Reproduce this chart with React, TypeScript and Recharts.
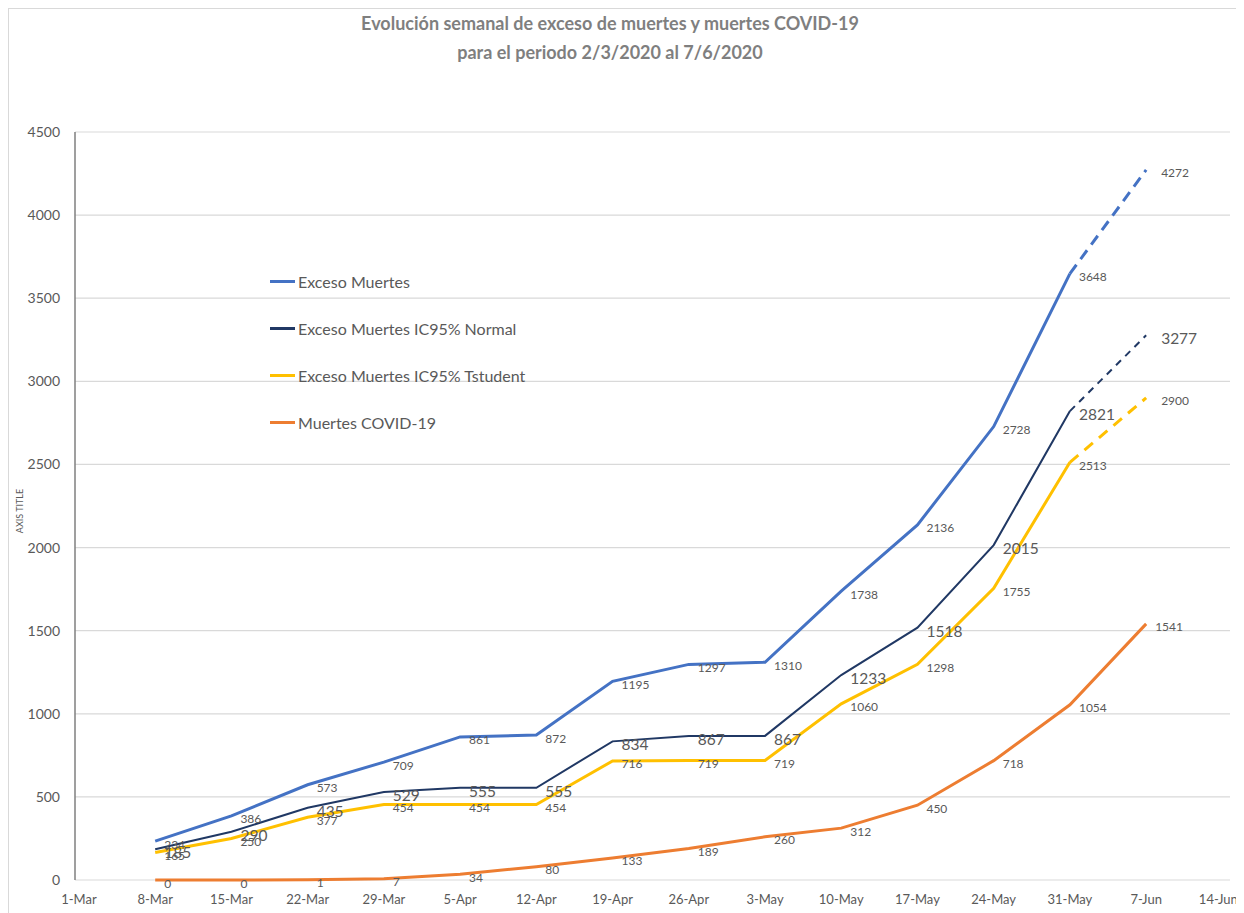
import { LineChart, Line, XAxis, YAxis, CartesianGrid, Legend } from 'recharts';

const fechas = ['1-Mar', '8-Mar', '15-Mar', '22-Mar', '29-Mar', '5-Apr', '12-Apr', '19-Apr', '26-Apr', '3-May', '10-May', '17-May', '24-May', '31-May', '7-Jun', '14-Jun'];

// 8-Mar .. 31-May
const excesoMuertes = [234, 386, 573, 709, 861, 872, 1195, 1297, 1310, 1738, 2136, 2728, 3648];
const excesoNormal = [185, 290, 435, 529, 555, 555, 834, 867, 867, 1233, 1518, 2015, 2821];
const excesoTstudent = [165, 250, 377, 454, 454, 454, 716, 719, 719, 1060, 1298, 1755, 2513];
// proyección 31-May -> 7-Jun (punteada)
const excesoMuertesProy = [3648, 4272];
const excesoNormalProy = [2821, 3277];
const excesoTstudentProy = [2513, 2900];
// 8-Mar .. 7-Jun
const muertesCovid = [0, 0, 1, 7, 34, 80, 133, 189, 260, 312, 450, 718, 1054, 1541];

const yTicks = [0, 500, 1000, 1500, 2000, 2500, 3000, 3500, 4000, 4500];

const series = [
  { name: 'Exceso Muertes', color: '#4472C4' },
  { name: 'Exceso Muertes IC95% Normal', color: '#203864' },
  { name: 'Exceso Muertes IC95% Tstudent', color: '#FFC000' },
  { name: 'Muertes COVID-19', color: '#ED7D31' },
];

const data = fechas.map((fecha, i) => ({
  i,
  fecha,
  exceso: i >= 1 && i <= 13 ? excesoMuertes[i - 1] : undefined,
  normal: i >= 1 && i <= 13 ? excesoNormal[i - 1] : undefined,
  tstudent: i >= 1 && i <= 13 ? excesoTstudent[i - 1] : undefined,
  excesoP: i === 13 || i === 14 ? excesoMuertesProy[i - 13] : undefined,
  normalP: i === 13 || i === 14 ? excesoNormalProy[i - 13] : undefined,
  tstudentP: i === 13 || i === 14 ? excesoTstudentProy[i - 13] : undefined,
  covid: i >= 1 && i <= 14 ? muertesCovid[i - 1] : undefined,
}));

const FONT = 'Lato, "Open Sans", sans-serif';
const GRAY = '#595959';

const makeLabel = (size: number, dx: number, onlyIndex?: number) => (props: any) => {
  const { x, y, value, index } = props;
  if (value == null || x == null || y == null) return null;
  if (onlyIndex != null && index !== onlyIndex) return null;
  return (
    <text key={`l-${index}`} x={x + dx} y={y + 3} fontSize={size} fill={GRAY} fontFamily={FONT} dominantBaseline="central">
      {value}
    </text>
  );
};

// last date label sits against the right edge, keep it inside
const FechaTick = (props: any) => {
  const { x, y, payload } = props;
  const last = payload.value === fechas.length - 1;
  return (
    <text x={last ? x - 4 : x} y={y} dy="0.71em" textAnchor="middle" fontSize={13} fill={GRAY} fontFamily={FONT}>
      {fechas[payload.value]}
    </text>
  );
};

const LegendBox = () => (
  <div style={{ fontFamily: FONT, fontSize: 16, color: GRAY }}>
    {series.map((s) => (
      <div key={s.name} style={{ height: 47, display: 'flex', alignItems: 'center' }}>
        <span style={{ display: 'inline-block', width: 25, height: 3, background: s.color, marginRight: 3 }} />
        <span>{s.name}</span>
      </div>
    ))}
  </div>
);

const App = () => {
  return (
    <div
      style={{
        position: 'relative',
        width: 1236,
        height: 905,
        borderTop: '1px solid #d9d9d9',
        borderLeft: '1px solid #d9d9d9',
        boxSizing: 'border-box',
      }}
    >
      <style>{'html, body { overflow: hidden; }'}</style>
      <div
        style={{
          position: 'absolute',
          left: 0,
          top: 0,
          width: 1202,
          textAlign: 'center',
          fontFamily: FONT,
          fontWeight: 'bold',
          fontSize: 18,
          lineHeight: '29px',
          color: '#7f7f7f',
          zIndex: 2,
        }}
      >
        Evolución semanal de exceso de muertes y muertes COVID-19
        <br />
        para el periodo 2/3/2020 al 7/6/2020
      </div>
      <LineChart width={1235} height={904} data={data} margin={{ top: 123, right: 14, bottom: 0, left: 0 }}>
        <CartesianGrid horizontal vertical={false} stroke="#d9d9d9" strokeWidth={1.2} />
        <XAxis
          dataKey="i"
          type="number"
          domain={[-0.052, 15.1]}
          allowDataOverflow
          ticks={fechas.map((_, i) => i)}
          axisLine={false}
          tickLine={false}
          tickMargin={9}
          height={33}
          interval={0}
          tick={<FechaTick />}
        />
        <YAxis
          domain={[0, 4500]}
          ticks={yTicks}
          width={66}
          axisLine={{ stroke: '#7f7f7f', strokeWidth: 1.5 }}
          tickLine={false}
          tickMargin={9}
          tick={{ fill: GRAY, fontSize: 14, fontFamily: FONT }}
          label={{
            content: (p: any) => {
              const vb = p.viewBox || { y: 123, height: 748 };
              const cy = vb.y + vb.height / 2 + 5;
              return (
                <text x={10} y={cy} transform={`rotate(-90 10 ${cy})`} textAnchor="middle" dominantBaseline="central" fontSize={9} fill={GRAY} fontFamily={FONT}>
                  AXIS TITLE
                </text>
              );
            },
          }}
        />
        <Legend
          layout="horizontal"
          verticalAlign="middle"
          align="center"
          content={() => <LegendBox />}
          wrapperStyle={{ left: 261, top: 249, width: 320 }}
        />
        <Line type="linear" dataKey="excesoP" stroke="#4472C4" strokeWidth={3} strokeDasharray="11 7" dot={false} legendType="none" isAnimationActive={false} label={makeLabel(12, 15, 14)} />
        <Line type="linear" dataKey="normalP" stroke="#203864" strokeWidth={2} strokeDasharray="7 6" dot={false} legendType="none" isAnimationActive={false} label={makeLabel(15.5, 15, 14)} />
        <Line type="linear" dataKey="tstudentP" stroke="#FFC000" strokeWidth={3} strokeDasharray="11 8" dot={false} legendType="none" isAnimationActive={false} label={makeLabel(12, 15, 14)} />
        <Line type="linear" dataKey="covid" name="Muertes COVID-19" stroke="#ED7D31" strokeWidth={3} dot={false} isAnimationActive={false} label={makeLabel(12, 9)} />
        <Line type="linear" dataKey="tstudent" name="Exceso Muertes IC95% Tstudent" stroke="#FFC000" strokeWidth={3} dot={false} isAnimationActive={false} label={makeLabel(12, 9)} />
        <Line type="linear" dataKey="normal" name="Exceso Muertes IC95% Normal" stroke="#203864" strokeWidth={2} dot={false} isAnimationActive={false} label={makeLabel(15.5, 9)} />
        <Line type="linear" dataKey="exceso" name="Exceso Muertes" stroke="#4472C4" strokeWidth={3} dot={false} isAnimationActive={false} label={makeLabel(12, 9)} />
      </LineChart>
    </div>
  );
};

export default App;
